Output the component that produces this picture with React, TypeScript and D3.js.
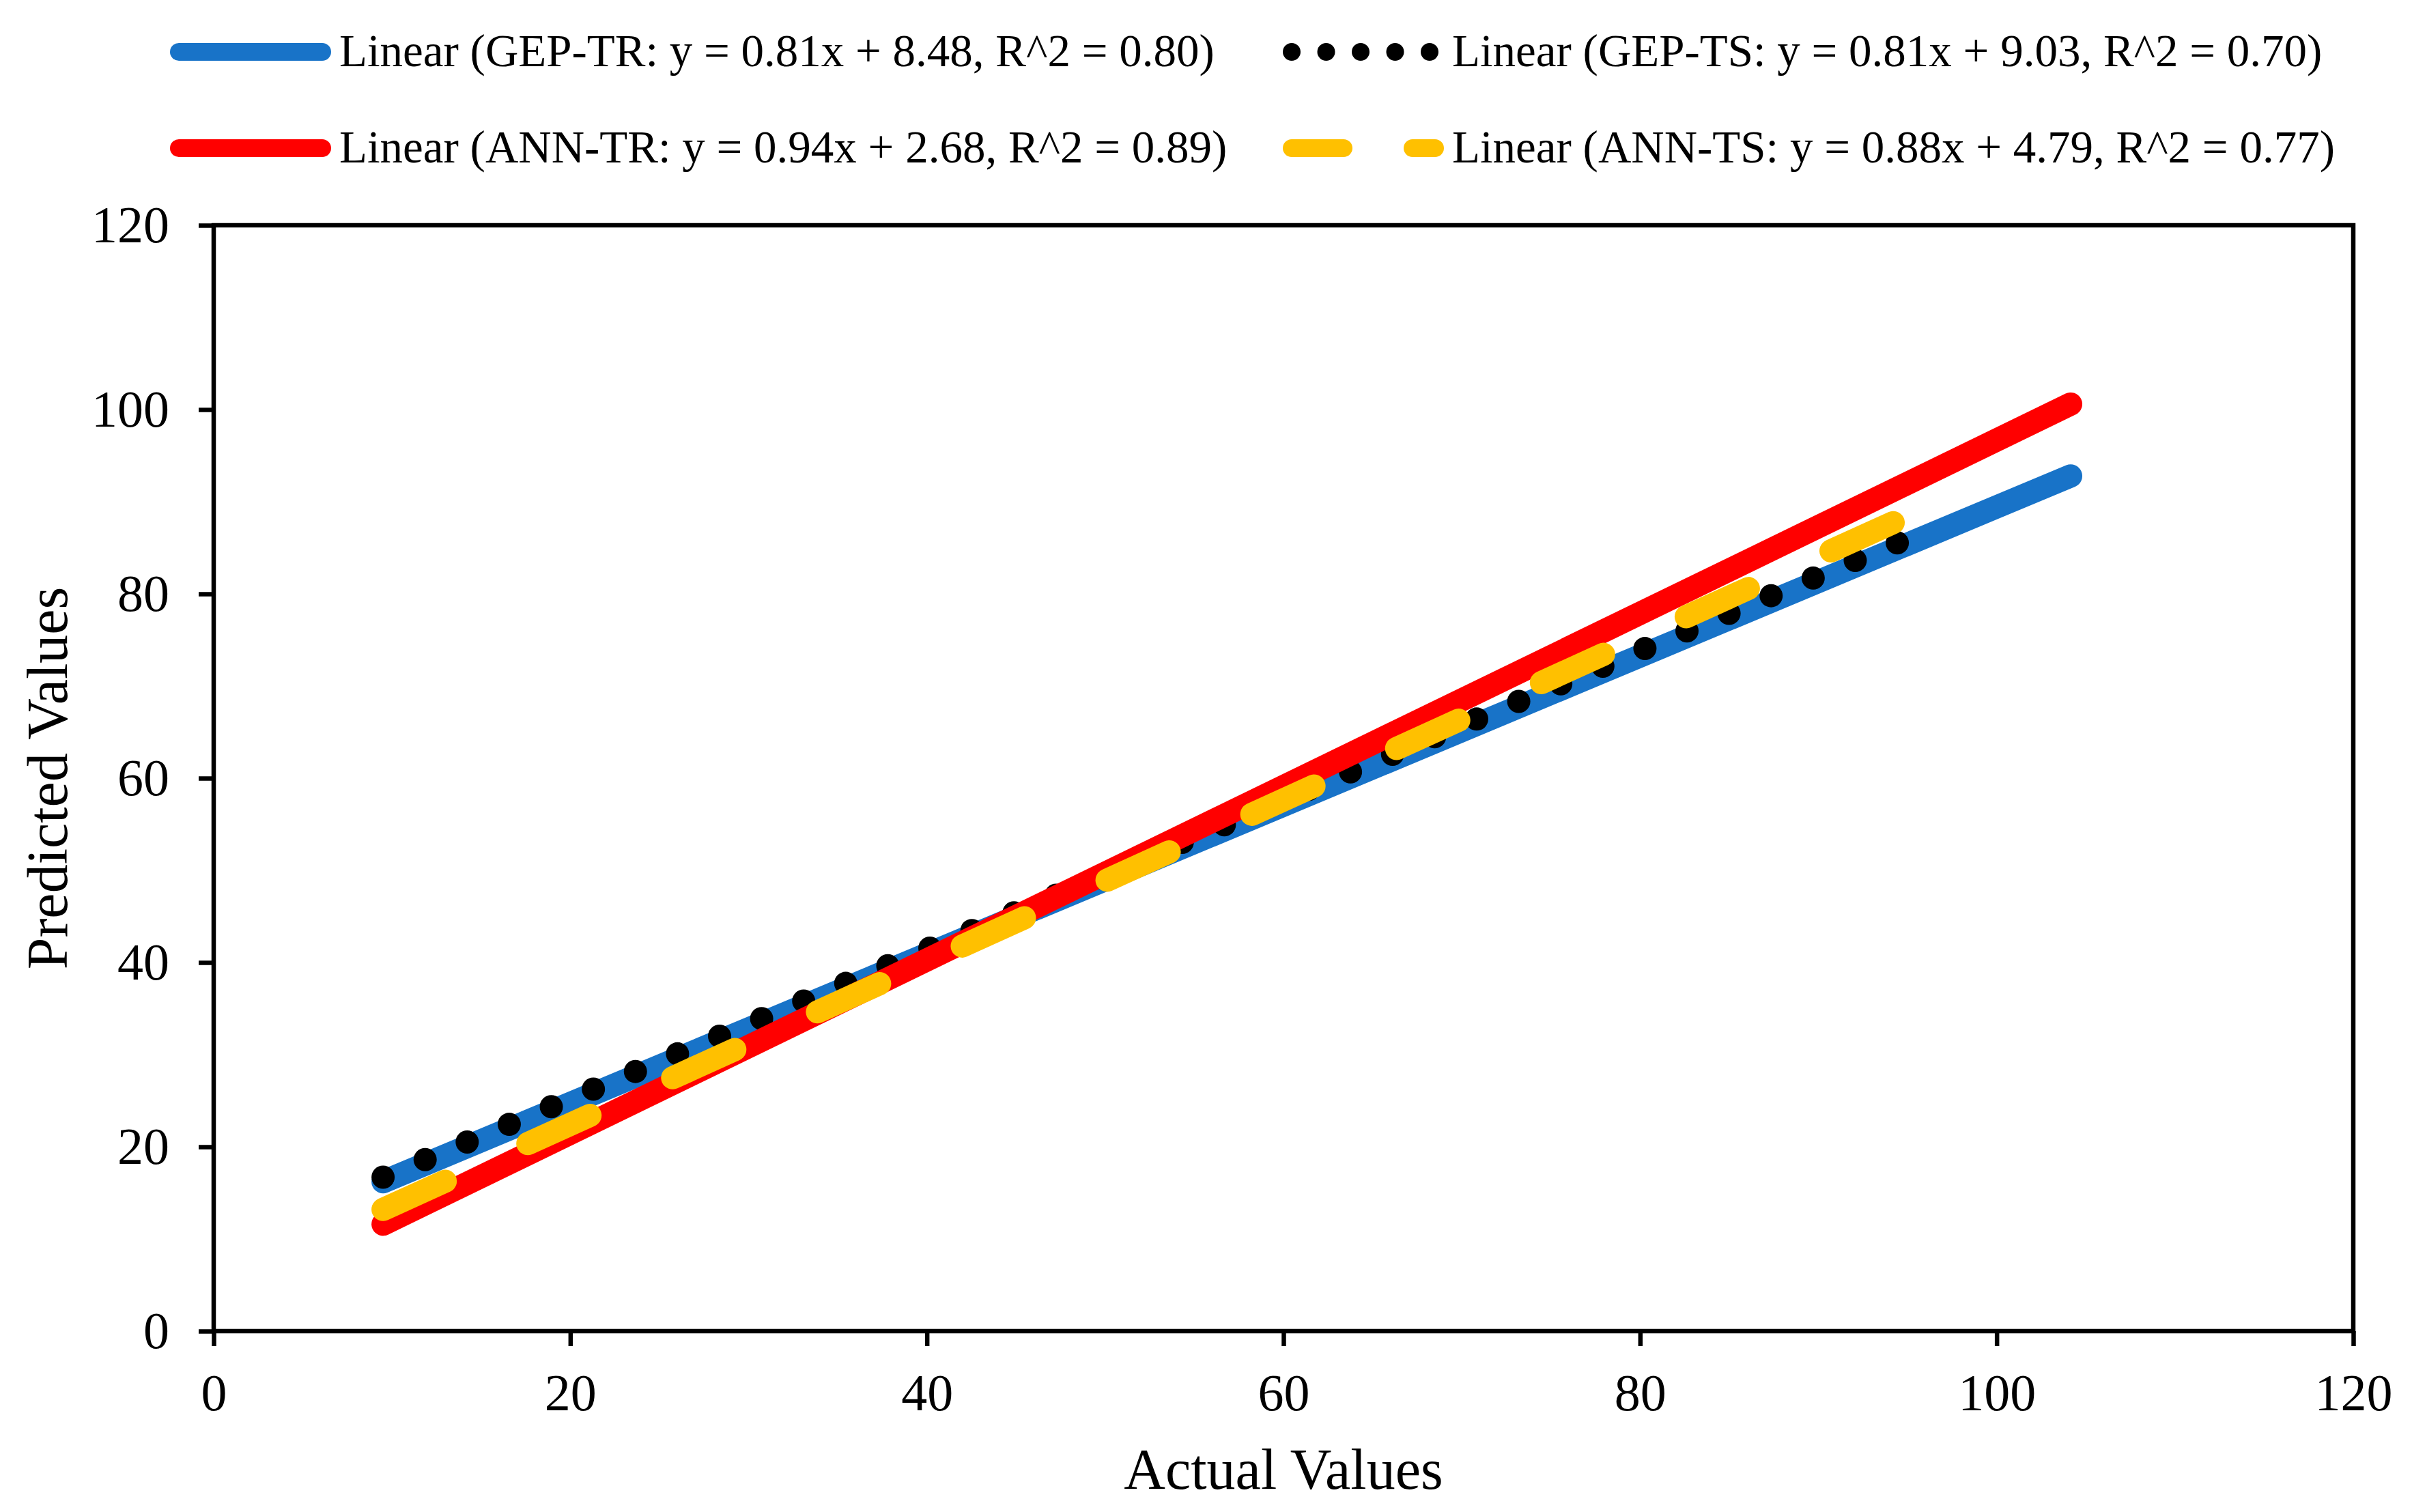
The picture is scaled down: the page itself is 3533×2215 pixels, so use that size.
import React, { useEffect, useRef } from 'react';
import * as d3 from 'd3';

// axis ticks
const xTicks = [0, 20, 40, 60, 80, 100, 120];
const yTicks = [0, 20, 40, 60, 80, 100, 120];

// trendline end points
const gepTR = [{ x: 9.5, y: 16.2 }, { x: 104.15, y: 92.8 }];
const gepTS = [{ x: 9.5, y: 16.7 }, { x: 94.5, y: 85.6 }];
const annTR = [{ x: 9.5, y: 11.6 }, { x: 104.15, y: 100.6 }];
const annTS = [{ x: 9.5, y: 13.2 }, { x: 94.5, y: 88.0 }];

const labels = [
  'Linear (GEP-TR: y = 0.81x + 8.48, R^2 = 0.80)',
  'Linear (GEP-TS: y = 0.81x + 9.03, R^2 = 0.70)',
  'Linear (ANN-TR: y = 0.94x + 2.68, R^2 = 0.89)',
  'Linear (ANN-TS: y = 0.88x + 4.79, R^2 = 0.77)',
];

const W = 3533;
const H = 2215;
const FONT = '"Liberation Serif", "Times New Roman", serif';

const App: React.FC = () => {
  const svgRef = useRef<SVGSVGElement>(null);

  useEffect(() => {
    if (!svgRef.current) return;
    document.body.style.margin = '0';
    const svg = d3.select(svgRef.current);
    svg.selectAll('*').remove();

    const left = 313, right = 3447, top = 330, bottom = 1950;

    const x = d3.scaleLinear().domain([0, 120]).range([left, right]);
    const y = d3.scaleLinear().domain([0, 120]).range([bottom, top]);

    svg.append('rect').attr('width', W).attr('height', H).attr('fill', 'white');

    // plot box
    svg.append('rect')
      .attr('x', left).attr('y', top)
      .attr('width', right - left).attr('height', bottom - top)
      .attr('fill', 'none').attr('stroke', 'black').attr('stroke-width', 6.5);

    // axes
    const xAxis = svg.append('g')
      .attr('transform', `translate(0,${bottom})`)
      .call(d3.axisBottom(x).tickValues(xTicks).tickSize(22).tickSizeOuter(0).tickPadding(40));
    const yAxis = svg.append('g')
      .attr('transform', `translate(${left},0)`)
      .call(d3.axisLeft(y).tickValues(yTicks).tickSize(22).tickSizeOuter(0).tickPadding(43));

    [xAxis, yAxis].forEach(a => {
      a.select('.domain').remove();
      a.selectAll('line').attr('stroke', 'black').attr('stroke-width', 6.5);
      a.selectAll('text')
        .attr('fill', 'black')
        .style('font-family', FONT)
        .style('font-size', '76px');
    });
    xAxis.selectAll('text').attr('dy', '0.71em');
    yAxis.selectAll('text').attr('dy', '0.32em');

    // axis titles
    svg.append('text')
      .attr('x', (left + right) / 2).attr('y', 2181)
      .attr('text-anchor', 'middle')
      .style('font-family', FONT).style('font-size', '84px')
      .text('Actual Values');
    svg.append('text')
      .attr('transform', `translate(98,${(top + bottom) / 2}) rotate(-90)`)
      .attr('text-anchor', 'middle')
      .style('font-family', FONT).style('font-size', '84px')
      .text('Predicted Values');

    const line = d3.line<{ x: number; y: number }>().x(d => x(d.x)).y(d => y(d.y));

    const drawLine = (data: { x: number; y: number }[], color: string, dash: string | null) => {
      const p = svg.append('path')
        .attr('d', line(data))
        .attr('fill', 'none')
        .attr('stroke', color)
        .attr('stroke-width', 34)
        .attr('stroke-linecap', 'round');
      if (dash) p.attr('stroke-dasharray', dash);
    };

    // series order: GEP-TR, GEP-TS, ANN-TR, ANN-TS
    drawLine(gepTR, '#1873C8', null);
    drawLine(gepTS, '#000000', '0 66.8');
    drawLine(annTR, '#FF0000', null);
    drawLine(annTS, '#FFC000', '100 133');

    // legend
    const legend = [
      { color: '#1873C8', dash: null, lx: 262, ly: 76, tx: 497, ty: 97 },
      { color: '#000000', dash: '0 50.5', lx: 1892, ly: 76, tx: 2127, ty: 97 },
      { color: '#FF0000', dash: null, lx: 262, ly: 217, tx: 497, ty: 238 },
      { color: '#FFC000', dash: '76 101', lx: 1892, ly: 217, tx: 2127, ty: 238 },
    ];
    legend.forEach((l, i) => {
      const seg = svg.append('line')
        .attr('x1', l.lx).attr('x2', l.lx + 210)
        .attr('y1', l.ly).attr('y2', l.ly)
        .attr('stroke', l.color)
        .attr('stroke-width', 26)
        .attr('stroke-linecap', 'round');
      if (l.dash) seg.attr('stroke-dasharray', l.dash);
      svg.append('text')
        .attr('x', l.tx).attr('y', l.ty)
        .style('font-family', FONT).style('font-size', '67px')
        .text(labels[i]);
    });
  }, []);

  return (
    <div style={{ position: 'absolute', left: 0, top: 0 }}>
      <svg ref={svgRef} width={W} height={H} style={{ display: 'block' }} />
    </div>
  );
};

export default App;
